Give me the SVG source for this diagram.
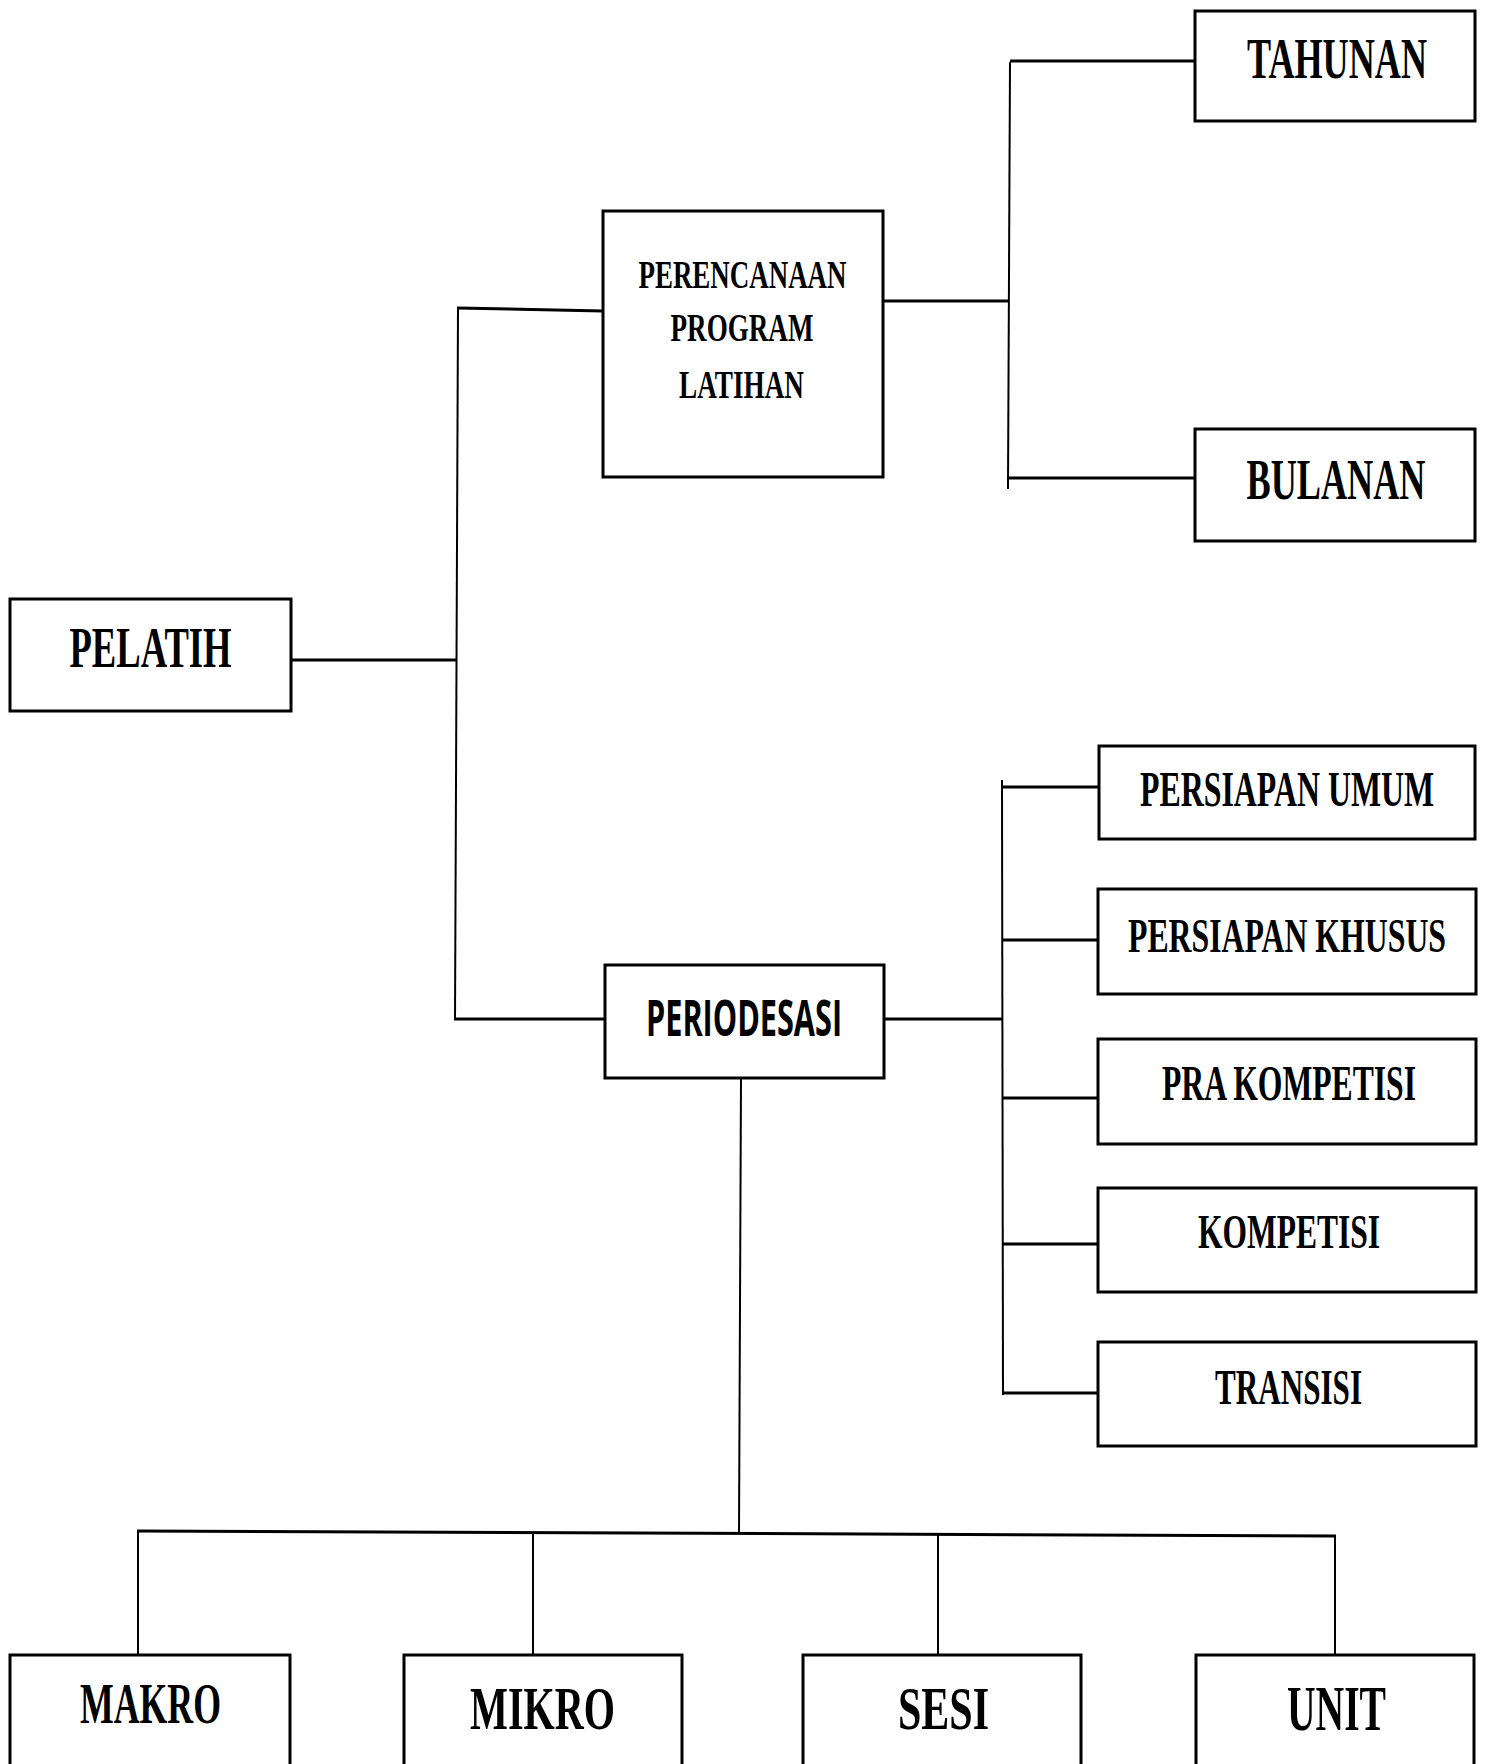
<svg xmlns="http://www.w3.org/2000/svg" width="1489" height="1764" viewBox="0 0 1489 1764">
<style>
.box{fill:#fff;stroke:#000;stroke-width:3}
.t{font-family:"Liberation Serif","Times New Roman",serif;font-weight:bold;fill:#000;text-anchor:middle}
.s{font-family:"Open Sans","Liberation Sans",sans-serif;font-weight:bold;fill:#000;text-anchor:middle}
.h{fill:none;stroke:#000;stroke-width:3}
.v{fill:none;stroke:#000;stroke-width:2}
</style>
<rect width="1489" height="1764" fill="#fff"/>
<g id="connectors">
<path class="h" d="M291 660 H457"/>
<path class="v" d="M458 308 L455 1020"/>
<path class="h" d="M457 308 L603 311"/>
<path class="h" d="M454 1019 H605"/>
<path class="h" d="M883 301 H1009"/>
<path class="v" d="M1010 62 L1008 489"/>
<path class="h" d="M1010 61 H1195"/>
<path class="h" d="M1007 478 H1195"/>
<path class="h" d="M884 1019 H1003"/>
<path class="v" d="M1002 780 L1003 1395"/>
<path class="h" d="M1002 787 H1099"/>
<path class="h" d="M1002 940 H1098"/>
<path class="h" d="M1002 1098 H1098"/>
<path class="h" d="M1002 1244 H1098"/>
<path class="h" d="M1002 1393 H1098"/>
<path class="v" d="M741 1078 L739 1533"/>
<path class="h" d="M137 1531 L1336 1536"/>
<path class="v" d="M138 1531 V1655"/>
<path class="v" d="M533 1533 V1655"/>
<path class="v" d="M938 1534 V1655"/>
<path class="v" d="M1335 1536 V1655"/>
</g>
<g id="tahunan"><rect class="box" x="1195" y="11" width="280" height="110"/><text class="t" transform="translate(1337 78) scale(0.64 1)" font-size="56" textLength="281.3" lengthAdjust="spacingAndGlyphs">TAHUNAN</text></g>
<g id="bulanan"><rect class="box" x="1195" y="429" width="280" height="112"/><text class="t" transform="translate(1336 499) scale(0.64 1)" font-size="57" textLength="279.7" lengthAdjust="spacingAndGlyphs">BULANAN</text></g>
<g id="perencanaan"><rect class="box" x="603" y="211" width="280" height="266"/>
<text class="t" transform="translate(742.5 288) scale(0.64 1)" font-size="41" textLength="325" lengthAdjust="spacingAndGlyphs">PERENCANAAN</text>
<text class="t" transform="translate(742 341) scale(0.64 1)" font-size="41" textLength="223.4" lengthAdjust="spacingAndGlyphs">PROGRAM</text>
<text class="t" transform="translate(741.5 398) scale(0.64 1)" font-size="41" textLength="195.3" lengthAdjust="spacingAndGlyphs">LATIHAN</text></g>
<g id="pelatih"><rect class="box" x="10" y="599" width="281" height="112"/><text class="t" transform="translate(150.5 667) scale(0.64 1)" font-size="57" textLength="253.1" lengthAdjust="spacingAndGlyphs">PELATIH</text></g>
<g id="periodesasi"><rect class="box" x="605" y="965" width="279" height="113"/><text class="s" transform="translate(744 1036) scale(0.64 1)" font-size="50" textLength="306.3" lengthAdjust="spacingAndGlyphs">PERIODESASI</text></g>
<g id="persiapan-umum"><rect class="box" x="1099" y="746" width="376" height="93"/><text class="t" transform="translate(1287 806) scale(0.64 1)" font-size="51" textLength="459.4" lengthAdjust="spacingAndGlyphs">PERSIAPAN UMUM</text></g>
<g id="persiapan-khusus"><rect class="box" x="1098" y="889" width="378" height="105"/><text class="t" transform="translate(1287 952) scale(0.64 1)" font-size="49" textLength="496.9" lengthAdjust="spacingAndGlyphs">PERSIAPAN KHUSUS</text></g>
<g id="pra-kompetisi"><rect class="box" x="1098" y="1039" width="378" height="105"/><text class="t" transform="translate(1289 1100) scale(0.64 1)" font-size="50" textLength="396.9" lengthAdjust="spacingAndGlyphs">PRA KOMPETISI</text></g>
<g id="kompetisi"><rect class="box" x="1098" y="1188" width="378" height="104"/><text class="t" transform="translate(1289 1248) scale(0.64 1)" font-size="49" textLength="284.4" lengthAdjust="spacingAndGlyphs">KOMPETISI</text></g>
<g id="transisi"><rect class="box" x="1098" y="1342" width="378" height="104"/><text class="t" transform="translate(1288.5 1404) scale(0.64 1)" font-size="50" textLength="229.7" lengthAdjust="spacingAndGlyphs">TRANSISI</text></g>
<g id="makro"><rect class="box" x="10" y="1655" width="280" height="125"/><text class="t" transform="translate(150.5 1723) scale(0.64 1)" font-size="57" textLength="220.3" lengthAdjust="spacingAndGlyphs">MAKRO</text></g>
<g id="mikro"><rect class="box" x="404" y="1655" width="278" height="125"/><text class="t" transform="translate(542.5 1729) scale(0.64 1)" font-size="62" textLength="226.6" lengthAdjust="spacingAndGlyphs">MIKRO</text></g>
<g id="sesi"><rect class="box" x="803" y="1655" width="278" height="125"/><text class="t" transform="translate(943.5 1729) scale(0.64 1)" font-size="62" textLength="142.2" lengthAdjust="spacingAndGlyphs">SESI</text></g>
<g id="unit"><rect class="box" x="1196" y="1655" width="278" height="125"/><text class="t" transform="translate(1336.5 1730) scale(0.64 1)" font-size="64" textLength="154.7" lengthAdjust="spacingAndGlyphs">UNIT</text></g>
</svg>
